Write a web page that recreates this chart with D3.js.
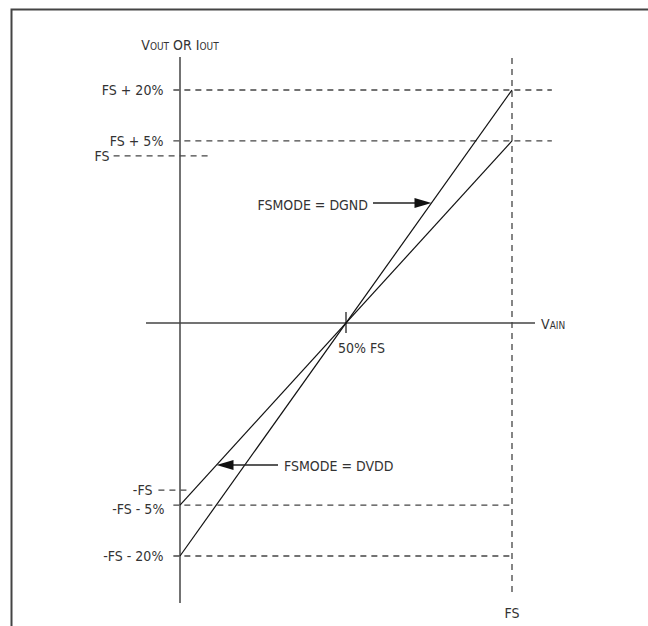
<!DOCTYPE html>
<html>
<head>
  <meta charset="utf-8">
  <title>FSMODE transfer</title>
  <script src="https://d3js.org/d3.v7.min.js"></script>
  <style>
    body { margin: 0; background: #fff; }
    text { font-family: "Liberation Sans Narrow", "DejaVu Sans Condensed", sans-serif; fill: #333; }
  </style>
</head>
<body>
  <script>
    // output levels (schematic units)
    var levelLabels = ['FS + 20%', 'FS + 5%', 'FS', '-FS', '-FS - 5%', '-FS - 20%'];
    var levelValues = [139.5, 109, 100, -100, -109, -139.5];

    // transfer lines: input in % of FS
    var dgndX = [0, 100], dgndY = [-139.5, 139.5];
    var dvddX = [0, 100], dvddY = [-109, 109];

    var width = 648, height = 626;
    var svg = d3.select('body').append('svg')
      .attr('width', width).attr('height', height);

    var x = d3.scaleLinear().domain([0, 100]).range([180, 512]);
    var y = d3.scaleLinear().domain([-139.5, 139.5]).range([556, 90]);

    // frame
    svg.append('path')
      .attr('d', 'M11.5,' + height + 'V9.5H' + width)
      .attr('fill', 'none').attr('stroke', '#444').attr('stroke-width', 2);

    var dash = '6,5';
    // dashed extents for each level, in input units
    var levelSpan = [[-2, 112], [-2, 112], [-20, 9], [-6.5, 2], [-2, 100], [-2, 100]];
    var labelGap = [10, 10, 4, 6, 9, 10];

    var levels = svg.append('g');
    levelValues.forEach(function(v, i) {
      levels.append('line')
        .attr('x1', x(levelSpan[i][0])).attr('x2', x(levelSpan[i][1]))
        .attr('y1', y(v)).attr('y2', y(v))
        .attr('stroke', '#444').attr('stroke-width', 1.3)
        .attr('stroke-dasharray', dash);
      levels.append('text')
        .attr('x', x(levelSpan[i][0]) - labelGap[i])
        .attr('y', y(v) + (i == 4 ? 9 : 5))
        .attr('text-anchor', 'end')
        .style('font-size', '14px')
        .text(levelLabels[i]);
    });

    // vertical FS dashed line
    svg.append('line')
      .attr('x1', x(100)).attr('x2', x(100))
      .attr('y1', 58).attr('y2', 596)
      .attr('stroke', '#444').attr('stroke-width', 1.3)
      .attr('stroke-dasharray', dash);

    // axes
    svg.append('line')
      .attr('x1', x(0)).attr('x2', x(0))
      .attr('y1', 57).attr('y2', 603)
      .attr('stroke', '#444').attr('stroke-width', 1.5);
    svg.append('line')
      .attr('x1', 146).attr('x2', 535)
      .attr('y1', y(0)).attr('y2', y(0))
      .attr('stroke', '#444').attr('stroke-width', 1.5);
    svg.append('line')
      .attr('x1', x(50)).attr('x2', x(50))
      .attr('y1', y(0) - 11).attr('y2', y(0) + 10)
      .attr('stroke', '#222').attr('stroke-width', 1.3);

    // transfer lines
    var line = d3.line().x(function(d) { return x(d[0]); }).y(function(d) { return y(d[1]); });
    svg.append('path')
      .attr('d', line(d3.zip(dgndX, dgndY)))
      .attr('fill', 'none').attr('stroke', '#111').attr('stroke-width', 1.2);
    svg.append('path')
      .attr('d', line(d3.zip(dvddX, dvddY)))
      .attr('fill', 'none').attr('stroke', '#111').attr('stroke-width', 1.2);

    // axis titles
    var yt = svg.append('text').attr('x', 180).attr('y', 50)
      .attr('text-anchor', 'middle').style('font-size', '14px');
    yt.append('tspan').text('V');
    yt.append('tspan').style('font-size', '10px').text('OUT');
    yt.append('tspan').text(' OR I');
    yt.append('tspan').style('font-size', '10px').text('OUT');

    var xt = svg.append('text').attr('x', 541).attr('y', 329).style('font-size', '14px');
    xt.append('tspan').text('V');
    xt.append('tspan').style('font-size', '10px').text('AIN');

    svg.append('text').attr('x', x(50) - 8).attr('y', y(0) + 30)
      .style('font-size', '14px').text('50% FS');
    svg.append('text').attr('x', x(100)).attr('y', 618)
      .attr('text-anchor', 'middle').style('font-size', '14px').text('FS');

    // annotations with arrows
    function arrowTo(x1, x0, yy) {
      var dir = x0 > x1 ? 1 : -1;
      svg.append('line')
        .attr('x1', x1).attr('x2', x0 - dir * 16)
        .attr('y1', yy).attr('y2', yy)
        .attr('stroke', '#222').attr('stroke-width', 1.3);
      svg.append('path')
        .attr('d', 'M' + x0 + ',' + yy + 'L' + (x0 - dir * 17) + ',' + (yy - 5) +
                   'L' + (x0 - dir * 17) + ',' + (yy + 5) + 'Z')
        .attr('fill', '#111');
    }
    var dgndAt = y.invert(203);
    arrowTo(373, x(dgndX[0] + (dgndAt - dgndY[0]) / (dgndY[1] - dgndY[0]) * 100), 203);
    svg.append('text').attr('x', 368).attr('y', 210)
      .attr('text-anchor', 'end').style('font-size', '14px').text('FSMODE = DGND');

    var dvddAt = y.invert(465);
    arrowTo(278, x(dvddX[0] + (dvddAt - dvddY[0]) / (dvddY[1] - dvddY[0]) * 100), 465);
    svg.append('text').attr('x', 284).attr('y', 471)
      .style('font-size', '14px').text('FSMODE = DVDD');
  </script>
</body>
</html>
